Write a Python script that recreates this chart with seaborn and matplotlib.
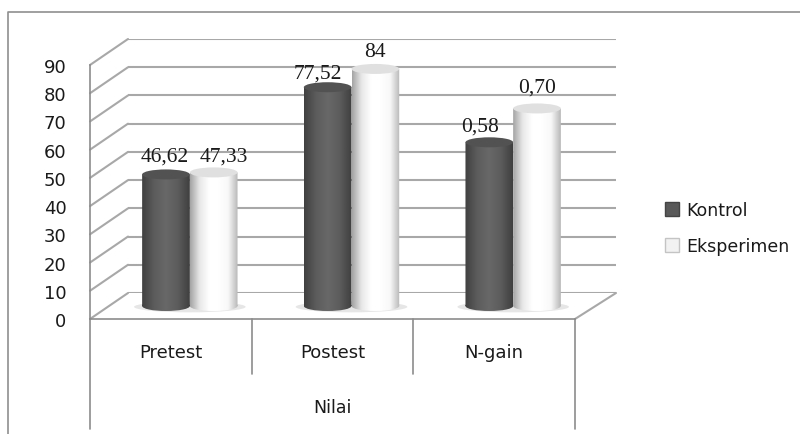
import numpy as np
import pandas as pd
import matplotlib
matplotlib.use("Agg")
import matplotlib.pyplot as plt
import seaborn as sns
from matplotlib.lines import Line2D
from matplotlib.patches import ConnectionPatch, Ellipse
from matplotlib.path import Path
from matplotlib.transforms import Affine2D
from matplotlib.colors import LinearSegmentedColormap

# Data
categories = ["Pretest", "Postest", "N-gain"]
series_names = ["Kontrol", "Eksperimen"]
kontrol = [46.62, 77.52, 58]
eksperimen = [47.33, 84, 70]
kontrol_labels = ["46,62", "77,52", "0,58"]
eksperimen_labels = ["47,33", "84", "0,70"]
y_ticks = list(range(0, 100, 10))

W, H = 800, 435
GRID = "#a8a8a8"
AXIS = "#8c8c8c"
TEXT = "#1a1a1a"
UNIT_PX = 254 / 90
CAP = 5 / UNIT_PX

sns.set_theme(style="white")
plt.rcParams["font.family"] = ["DejaVu Sans"]

df = pd.DataFrame({
    "kategori": categories * 2,
    "seri": np.repeat(series_names, 3),
    "nilai": kontrol + eksperimen,
})


def place(x, top, w=485, h=254):
    return [x / W, 1 - (top + h) / H, w / W, h / H]


fig = plt.figure(figsize=(W / 100, H / 100), dpi=100, facecolor="white")
back_ax = fig.add_axes(place(128, 40, w=488), zorder=0)
ax = fig.add_axes(place(90, 66), zorder=1)
bar_ax = fig.add_axes(place(109, 53), zorder=2)
ax.patch.set_visible(False)
bar_ax.patch.set_visible(False)

for a in (back_ax, ax, bar_ax):
    a.set_xlim(-0.5, 2.5)
    a.set_ylim(0, 90)

# Back wall
back_ax.set_xticks([])
back_ax.set_yticks(y_ticks)
back_ax.set_yticklabels([])
back_ax.tick_params(length=0)
back_ax.grid(axis="y", color=GRID, lw=1.5)
sns.despine(ax=back_ax, left=True, bottom=True)

# Side wall and floor edge
for v in y_ticks:
    fig.add_artist(ConnectionPatch((-0.5, v), (-0.5, v), ax.transData, back_ax.transData,
                                   color=GRID, lw=1.5, zorder=0.5))
fig.add_artist(ConnectionPatch((2.5, 0), (2.5, 0), ax.transData, back_ax.transData,
                               color=GRID, lw=1.5, zorder=0.5))

# Front axis
ax.set_yticks(y_ticks)
ax.set_xticks([0, 1, 2], categories)
ax.tick_params(axis="y", length=4, width=1, color=AXIS, labelsize=13, labelcolor=TEXT, pad=13)
ax.tick_params(axis="x", length=0, labelsize=13, labelcolor=TEXT, pad=17)
ax.set_xlabel("Nilai", fontsize=12.5, color=TEXT, labelpad=27)
sns.despine(ax=ax)
for s in ("left", "bottom"):
    ax.spines[s].set_color(AXIS)
    ax.spines[s].set_linewidth(1.2)
sep_long = -110 / UNIT_PX
sep_short = -55 / UNIT_PX
for x, low in zip([-0.5, 0.5, 1.5, 2.5], [sep_long, sep_short, sep_short, sep_long]):
    ax.plot([x, x], [0, low], color=AXIS, lw=1.2, clip_on=False)

# Bars
sns.barplot(data=df, x="kategori", y="nilai", hue="seri", order=categories,
            hue_order=series_names, palette=["#595959", "#f2f2f2"], width=0.59,
            gap=0, saturation=1, ax=bar_ax)
bar_ax.set_xlim(-0.5, 2.5)
bar_ax.set_ylim(0, 90)
bar_ax.set_axis_off()

dark = LinearSegmentedColormap.from_list("gelap", ["#404040", "#5c5c5c", "#686868", "#5c5c5c", "#3f3f3f"])
light = LinearSegmentedColormap.from_list("terang", ["#a4a4a4", "#e8e8e8", "#ffffff", "#ffffff", "#f8f8f8", "#b8b8b8"])
ramp = np.linspace(0, 1, 128).reshape(1, -1)

for c, (cont, cmap, cap_col) in enumerate(zip(bar_ax.containers, [dark, light], ["#525252", "#e0e0e0"])):
    for bar in cont:
        x0, w, h = bar.get_x(), bar.get_width(), bar.get_height()
        cx = x0 + w / 2
        bar.set_visible(False)
        rect = Path([(x0, 0), (x0 + w, 0), (x0 + w, h), (x0, h), (x0, 0)], closed=True)
        base = Path.unit_circle().transformed(Affine2D().scale(w / 2, CAP).translate(cx, 0))
        shape = Path.make_compound_path(rect, base)
        im = bar_ax.imshow(ramp, cmap=cmap, extent=[x0, x0 + w, -CAP, h], aspect="auto",
                           zorder=3 + c, vmin=0, vmax=1)
        im.set_clip_path(shape, transform=bar_ax.transData)
        im.set_clip_box(fig.bbox)
        bar_ax.add_patch(Ellipse((cx, h), w, 2 * CAP, fc=cap_col, ec="none", zorder=3.5 + c, clip_on=False))

# Floor shadow under each pair
for i in range(len(categories)):
    bar_ax.add_patch(Ellipse((i, -0.3), 0.69, 2.2 * CAP, fc="#e6e6e6", ec="none", zorder=1, clip_on=False))
bar_ax.set_xlim(-0.5, 2.5)
bar_ax.set_ylim(0, 90)

# Value labels
label_shift = [(-1, 14), (-10, 10), (-9, 12), (10, 12), (0, 13), (0, 17)]
texts = kontrol_labels + eksperimen_labels
bars = list(bar_ax.containers[0]) + list(bar_ax.containers[1])
for bar, txt, shift in zip(bars, texts, label_shift):
    bar_ax.annotate(txt, (bar.get_x() + bar.get_width() / 2, bar.get_height()), xytext=shift,
                    textcoords="offset pixels", ha="center", va="baseline", fontsize=15.5,
                    family="Liberation Serif", color=TEXT, zorder=8, annotation_clip=False)

# Legend
sns.move_legend(bar_ax, "center left", bbox_to_anchor=(649 / W, 1 - 229 / H), bbox_transform=fig.transFigure,
                frameon=False, title=None, fontsize=12.5, handlelength=0.85, handleheight=0.85,
                handletextpad=0.42, labelspacing=1.05, labelcolor=TEXT)
leg = bar_ax.get_legend()
leg.set_zorder(9)
leg.legend_handles[0].set_edgecolor("#444444")
leg.legend_handles[1].set_edgecolor("#c4c4c4")

# Outer frame
fig.add_artist(Line2D([8 / W, 8 / W, 1], [0, 1 - 13 / H, 1 - 13 / H], color="#8f8f8f", lw=1.2, zorder=6))

fig.savefig("out.png", dpi=100)
